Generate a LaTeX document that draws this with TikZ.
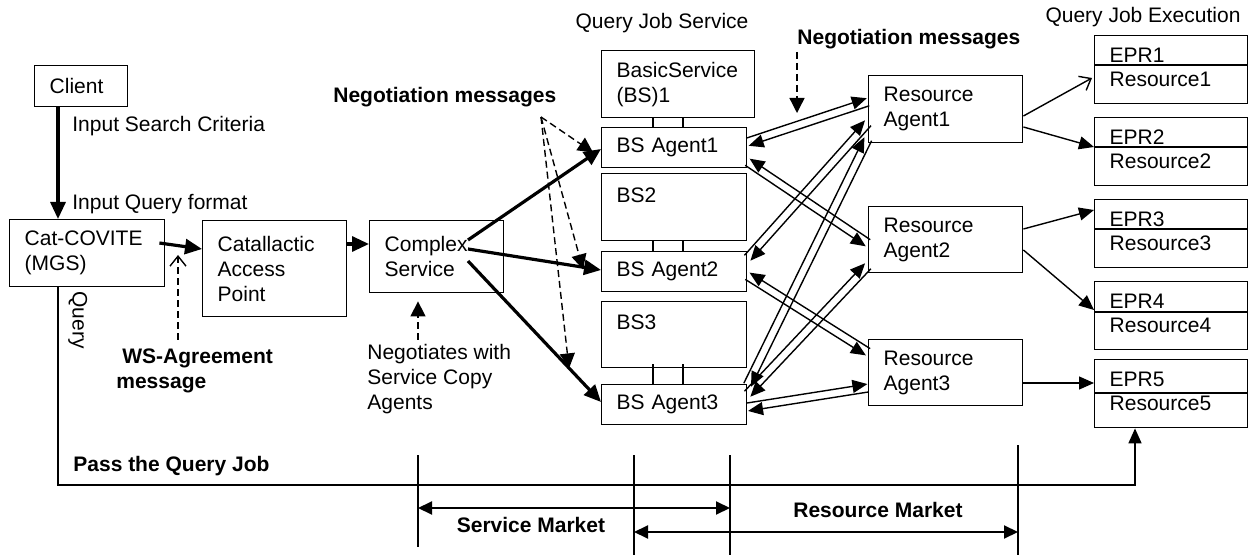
\documentclass[tikz,border=0pt]{standalone}
\usepackage{fontspec}
\setmainfont{Liberation Sans}
\usetikzlibrary{arrows.meta,calc}
\newcommand\fs{\fontsize{10.5}{12.5}\selectfont}
\newcommand\dblarr[4]{%
  \draw[pairline] ($(#1)!2pt!#3:(#2)$) -- ($(#2)!2pt!#4:(#1)$);
  \draw[pairline] ($(#2)!2pt!#3:(#1)$) -- ($(#1)!2pt!#4:(#2)$);}
\begin{document}
\begin{tikzpicture}[x=0.5pt,y=-0.5pt,
 box/.style={draw, line width=0.7pt, anchor=north west, inner xsep=7.5pt, inner ysep=0pt, align=left, font=\fs},
 lbl/.style={anchor=west, inner sep=0pt, font=\fs, text height=7.5pt, text depth=2pt},
 blbl/.style={lbl, font=\fs\bfseries},
 thickarr/.style={-{Triangle[length=8.5pt,width=7.5pt]}, line width=1.6pt},
 thinarr/.style={-{Triangle[length=7.5pt,width=6.5pt]}, line width=0.7pt},
 openarr/.style={line width=0.7pt, -{Straight Barb[length=5pt,width=8pt]}},
 dasharr/.style={line width=0.7pt, dash pattern=on 3.5pt off 2pt, -{Triangle[length=7.5pt,width=7.5pt]}},
 pairline/.style={thinarr},
 linkline/.style={line width=0.7pt},
 tickline/.style={line width=0.6pt},
 mkt/.style={line width=1pt, {Triangle[length=7pt,width=6.5pt]}-{Triangle[length=7pt,width=6.5pt]}},
 qpath/.style={line width=0.8pt, -{Triangle[length=7.5pt,width=6.5pt]}},
]
\useasboundingbox (0,0) rectangle (1257,555);

% ---- boxes ----
\node[box, minimum width=46.5pt, minimum height=20.5pt, text width=31.5pt] (client) at (34,65) {Client};
\node[box, minimum width=77.5pt, minimum height=33.5pt, text width=62.5pt] (cat) at (9,219) {Cat-COVITE\\(MGS)};
\node[box, minimum width=72pt, minimum height=48pt, text width=57pt] (cap) at (202,220) {Catallactic\\Access\\Point};
\node[box, minimum width=67pt, minimum height=36pt, text width=52pt] (cx) at (369,220) {Complex\\Service};

\node[box, minimum width=76.5pt, minimum height=33.5pt, text width=61.5pt] (bs1) at (601,50) {BasicService\\(BS)1};
\node[box, minimum width=72.5pt, minimum height=20pt, text width=57.5pt] (bsa1) at (601,127) {BS Agent1};
\node[box, minimum width=72.5pt, minimum height=33.5pt, text width=57.5pt] (bs2) at (601,173) {BS2\\~};
\node[box, minimum width=72.5pt, minimum height=20pt, text width=57.5pt] (bsa2) at (601,251) {BS Agent2};
\node[box, minimum width=72.5pt, minimum height=33pt, text width=57.5pt] (bs3) at (601,301) {BS3\\~};
\node[box, minimum width=72.5pt, minimum height=20pt, text width=57.5pt] (bsa3) at (601,384) {BS Agent3};

\node[box, minimum width=77pt, minimum height=33.5pt, text width=62pt] (ra1) at (868,75) {Resource\\Agent1};
\node[box, minimum width=77pt, minimum height=33pt, text width=62pt] (ra2) at (868,206) {Resource\\Agent2};
\node[box, minimum width=77pt, minimum height=33pt, text width=62pt] (ra3) at (868,339) {Resource\\Agent3};

\foreach \i/\y/\d in {1/35/30, 2/117/30, 3/199/30, 4/281/31, 5/359/34}{
  \node[box, minimum width=76.5pt, minimum height=34pt, text width=61.5pt, text depth=14.6pt, font=\fontsize{10.5}{12}\selectfont] (epr\i) at (1094,\y) {EPR\i\\Resource\i};
  \draw[linkline] ($(epr\i.north west)+(0,\d)$) -- ($(epr\i.north east)+(0,\d)$);
}

% ---- links between basic services and agents ----
\foreach \a/\b/\s in {bs1/bsa1/0, bs2/bsa2/0, bs3/bsa3/-4}{
  \draw[linkline] ($(\a.south west)+(52,\s)$) -- ($(\b.north west)+(52,0)$);
  \draw[linkline] ($(\a.south west)+(82,\s)$) -- ($(\b.north west)+(82,0)$);
}

% ---- labels ----
\node[lbl, anchor=center] (qjs) at (662,23) {Query Job Service};
\node[lbl, anchor=center] (qje) at (1143,17) {Query Job Execution};
\node[blbl] (nmR) at (797,39) {Negotiation messages};
\node[blbl] (nmL) at (333,97) {Negotiation messages};
\node[lbl] (isc) at (72,126) {Input Search Criteria};
\node[lbl] (iqf) at (72,204) {Input Query format};
\node[lbl, anchor=center, rotate=-90] (qlbl) at (78,320) {Query};
\node[blbl, align=left, text height=, text depth=] (wsl) at (116,371) {\hspace{3pt}WS-Agreement\\message};
\node[lbl, align=left, text height=, text depth=] (neg) at (367,379) {Negotiates with\\Service Copy\\Agents};
\node[blbl] (pqj) at (73,466) {Pass the Query Job};
\node[blbl, anchor=center] (sm) at (531,527) {Service Market};
\node[blbl, anchor=center] (rm) at (878,512) {Resource Market};

% ---- main flow ----
\draw[thickarr] ($(client.south west)+(24,0)$) -- ($(cat.north west)+(49,0)$);
\draw[thickarr] ($(cat.north east)+(-6,24)$) -- ($(cap.north west)+(0,29)$);
\draw[thickarr] ($(cap.north east)+(0,24)$) -- ($(cx.north west)+(0,24)$);
\draw[thickarr] ($(cx.north west)+(99,20)$) -- ($(bsa1.north west)+(0,22)$);
\draw[thickarr] ($(cx.north west)+(99,29)$) -- ($(bsa2.north west)+(0,19)$);
\draw[thickarr] ($(cx.north west)+(99,41)$) -- ($(bsa3.north west)+(0,18)$);

% ---- dashed annotations ----
\coordinate (nm) at (541,117);
\draw[dasharr] (nm) -- ($(bsa1.south west)+(-8,-16)$);
\draw[dasharr] (nm) -- ($(bsa2.south west)+(-18,-23)$);
\draw[dasharr] (nm) -- ($(bsa3.south west)+(-32,-57)$);
\coordinate (nm2) at (797,52);
\coordinate (nm2e) at (797,113);
\draw[dasharr] (nm2) -- (nm2e);
\coordinate (wss) at (178,340);
\coordinate (wse) at (178,255);
\draw[openarr, dash pattern=on 3.5pt off 2pt] (wss) -- (wse);
\coordinate (ngs) at (418,340);
\draw[dasharr] (ngs) -- ($(cx.south west)+(49,8)$);

% ---- agent negotiation pairs ----
\coordinate (p1a) at ($(bsa1.north east)+(0,15)$);
\coordinate (p1b) at ($(ra1.north west)+(0,27)$);
\coordinate (p2a) at ($(bsa1.north east)+(0,35)$);
\coordinate (p2b) at ($(ra2.north west)+(0,37)$);
\coordinate (p3a) at ($(bsa2.north east)+(0,7)$);
\coordinate (p3b) at ($(ra1.north west)+(0,48)$);
\coordinate (p4a) at ($(bsa2.north east)+(0,25)$);
\coordinate (p4b) at ($(ra3.north west)+(0,13)$);
\coordinate (p5a) at ($(bsa3.north east)+(0,1)$);
\coordinate (p5b) at ($(ra1.north west)+(0,64)$);
\coordinate (p6a) at ($(bsa3.north east)+(0,10)$);
\coordinate (p6b) at ($(ra2.north west)+(0,60)$);
\coordinate (p7a) at ($(bsa3.north east)+(0,23)$);
\coordinate (p7b) at ($(ra3.north west)+(0,49)$);
\dblarr{p1a}{p1b}{90}{-90}
\dblarr{p2a}{p2b}{-90}{90}
\dblarr{p3a}{p3b}{90}{-90}
\dblarr{p4a}{p4b}{-90}{90}
\dblarr{p5a}{p5b}{90}{-90}
\dblarr{p6a}{p6b}{90}{-90}
\dblarr{p7a}{p7b}{90}{-90}

% ---- resource agents to resources ----
\draw[openarr] ($(ra1.north east)+(0,41)$) -- ($(epr1.north west)+(-2,43)$);
\draw[thinarr] ($(ra1.north east)+(0,52)$) -- ($(epr2.north west)+(0,30)$);
\draw[thinarr] ($(ra2.north east)+(0,23)$) -- ($(epr3.north west)+(0,11)$);
\draw[thinarr] ($(ra2.north east)+(0,44)$) -- ($(epr4.north west)+(0,29)$);
\draw[thinarr] ($(ra3.north east)+(0,44)$) -- ($(epr5.north west)+(0,24)$);

% ---- query path ----
\coordinate (qs) at ($(cat.south west)+(49,0)$);
\coordinate (qe) at ($(epr5.south west)+(41,0)$);
\coordinate (qb) at (0,485);
\draw[qpath] (qs) |- (qe |- qb) -- (qe);

% ---- markets ----
\coordinate (t1) at (418,455);
\coordinate (t1e) at (418,547);
\coordinate (t2) at (634,455);
\coordinate (t2e) at (634,555);
\coordinate (t3) at (730,455);
\coordinate (t3e) at (730,555);
\coordinate (t4) at (1018,445);
\coordinate (t4e) at (1018,555);
\draw[tickline] (t1) -- (t1e);
\draw[tickline] (t2) -- (t2e);
\draw[tickline] (t3) -- (t3e);
\draw[tickline] (t4) -- (t4e);
\draw[mkt] (t1 |- 0,508) -- (t3 |- 0,508);
\draw[mkt] (t2 |- 0,532) -- (t4 |- 0,532);
\end{tikzpicture}
\end{document}
